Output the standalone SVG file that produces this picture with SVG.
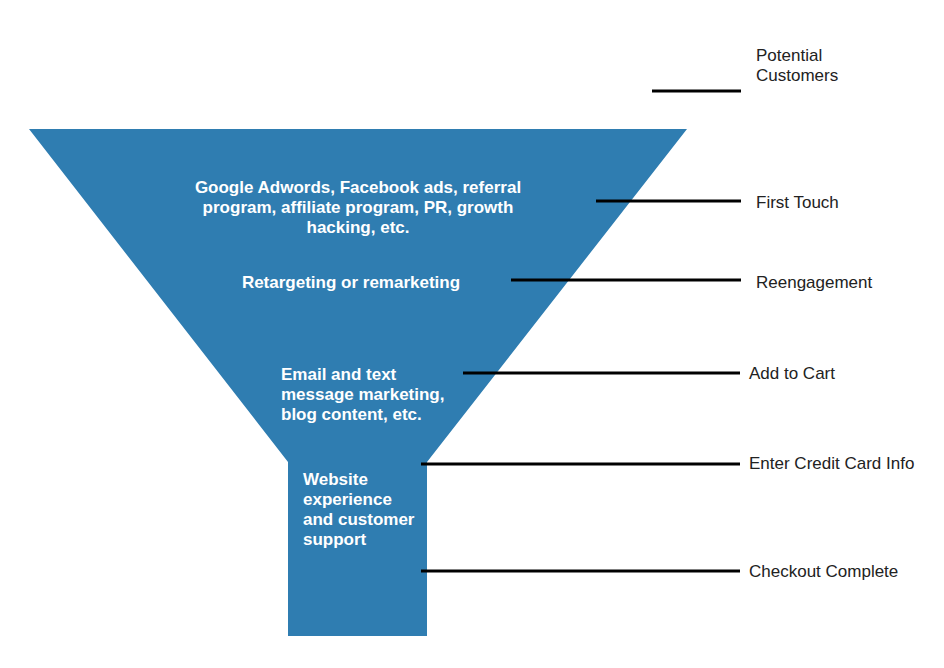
<svg xmlns="http://www.w3.org/2000/svg" width="944" height="668" viewBox="0 0 944 668">
<style>
.funnel{fill:#2f7db1}
.in{font-family:"Liberation Sans",Arial,sans-serif;font-weight:bold;font-size:17px;fill:#ffffff}
.lbl{font-family:"Liberation Sans",Arial,sans-serif;font-size:17px;fill:#222222}
.conn line{stroke:#000000;stroke-width:2.8}
</style>
<rect width="944" height="668" fill="#ffffff"/>
<g id="funnel">
<polygon class="funnel" points="29,129 687,129 427,462 427,636 288,636 288,462"/>
</g>
<g id="stage-top">
<text class="in" text-anchor="middle" x="358" y="193">Google Adwords, Facebook ads, referral</text>
<text class="in" text-anchor="middle" x="358" y="213">program, affiliate program, PR, growth</text>
<text class="in" text-anchor="middle" x="358" y="233">hacking, etc.</text>
</g>
<g id="stage-retarget">
<text class="in" text-anchor="middle" x="351" y="288">Retargeting or remarketing</text>
</g>
<g id="stage-email">
<text class="in" x="281" y="380">Email and text</text>
<text class="in" x="281" y="400">message marketing,</text>
<text class="in" x="281" y="420">blog content, etc.</text>
</g>
<g id="stage-website">
<text class="in" x="303" y="485">Website</text>
<text class="in" x="303" y="505">experience</text>
<text class="in" x="303" y="525">and customer</text>
<text class="in" x="303" y="545">support</text>
</g>
<g id="connectors" class="conn">
<line x1="652" y1="91" x2="741" y2="91"/>
<line x1="596" y1="201" x2="741" y2="201"/>
<line x1="511" y1="280" x2="741" y2="280"/>
<line x1="463" y1="373" x2="740" y2="373"/>
<line x1="421" y1="464" x2="740" y2="464"/>
<line x1="421" y1="571" x2="740" y2="571"/>
</g>
<g id="label-potential">
<text class="lbl" x="756" y="61">Potential</text>
<text class="lbl" x="756" y="81">Customers</text>
</g>
<g id="label-first-touch"><text class="lbl" x="756" y="208">First Touch</text></g>
<g id="label-reengagement"><text class="lbl" x="756" y="288">Reengagement</text></g>
<g id="label-add-to-cart"><text class="lbl" x="749" y="379">Add to Cart</text></g>
<g id="label-credit-card"><text class="lbl" x="749" y="469">Enter Credit Card Info</text></g>
<g id="label-checkout"><text class="lbl" x="749" y="577">Checkout Complete</text></g>
</svg>
